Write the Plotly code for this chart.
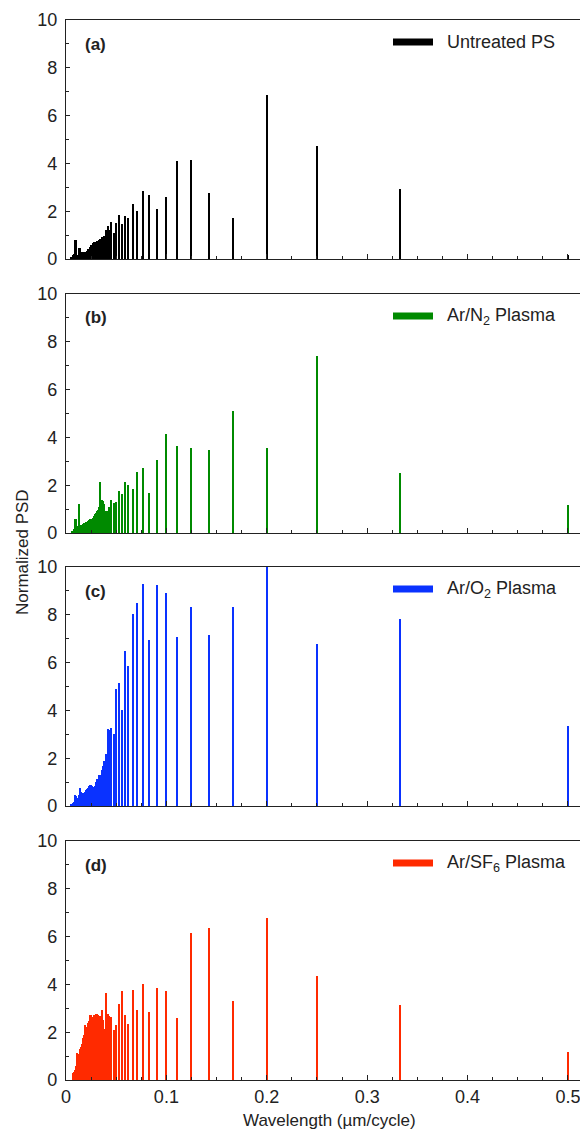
import plotly.graph_objects as go

# Wavelengths (um/cycle): harmonic peaks, then the densely packed short-wavelength region
harmonic_wl = [0.5, 0.3333, 0.25, 0.2, 0.1667, 0.1429, 0.125, 0.1111, 0.1, 0.0909,
               0.0833, 0.0769, 0.0714, 0.0667, 0.0625, 0.0588, 0.0556, 0.0526, 0.05,
               0.0476, 0.0455, 0.0435, 0.0417, 0.04, 0.0385, 0.037, 0.0357, 0.0345, 0.0333]
dense_wl = [0.032, 0.031, 0.030, 0.029, 0.028, 0.027, 0.026, 0.025, 0.024, 0.023,
            0.022, 0.021, 0.020, 0.019, 0.018, 0.017, 0.016, 0.015, 0.014, 0.013,
            0.012, 0.011, 0.010, 0.009, 0.008, 0.007, 0.006, 0.005]
wavelength = harmonic_wl + dense_wl

untreated_h = [0.15, 2.94, 4.74, 6.87, 1.72, 2.78, 4.13, 4.09, 2.61, 2.09,
               2.67, 2.84, 1.99, 2.29, 1.72, 1.82, 1.46, 1.84, 1.5,
               1.1, 1.55, 1.2, 1.4, 1.2, 0.95, 0.9, 0.9, 0.85, 0.8]
untreated_d = [0.75, 0.75, 0.72, 0.7, 0.7, 0.65, 0.6, 0.6, 0.5, 0.42,
               0.4, 0.35, 0.3, 0.28, 0.28, 0.28, 0.3, 0.3, 0.45, 0.45,
               0.15, 0.1, 0.78, 0.78, 0.2, 0.15, 0.1, 0.05]

n2_h = [1.16, 2.52, 7.42, 3.57, 5.10, 3.46, 3.57, 3.63, 4.16, 3.04,
        1.67, 2.72, 2.56, 1.85, 1.99, 2.13, 1.64, 1.75, 1.29,
        1.25, 1.39, 1.08, 0.94, 0.94, 1.2, 1.36, 1.4, 2.14, 1.08]
n2_d = [0.95, 0.9, 0.85, 0.8, 0.7, 0.62, 0.6, 0.6, 0.58, 0.56,
        0.5, 0.48, 0.45, 0.42, 0.4, 0.38, 0.35, 0.33, 0.32, 1.2,
        0.3, 0.25, 0.6, 0.6, 0.15, 0.1, 0.05, 0.0]

o2_h = [3.35, 7.82, 6.77, 10.0, 8.33, 7.17, 8.33, 7.06, 8.91, 9.23,
        6.96, 9.29, 8.49, 8.02, 5.86, 6.50, 4.0, 5.16, 4.91,
        3.03, 3.26, 3.2, 3.21, 2.16, 1.9, 1.69, 1.5, 1.3, 1.3]
o2_d = [1.1, 1.15, 1.0, 0.85, 0.75, 0.8, 0.85, 0.87, 0.87, 0.85,
        0.75, 0.7, 0.65, 0.6, 0.55, 0.55, 0.52, 0.6, 0.75, 0.45,
        0.35, 0.3, 0.4, 0.45, 0.15, 0.12, 0.1, 0.05]

sf6_h = [1.18, 3.14, 4.35, 6.77, 3.31, 6.35, 6.14, 2.6, 3.72, 3.87,
         2.83, 4.03, 2.94, 3.77, 2.35, 2.73, 3.73, 3.2, 2.3,
         2.09, 2.65, 2.66, 2.76, 3.66, 2.13, 2.5, 2.94, 2.66, 2.65]
sf6_d = [2.7, 2.75, 2.75, 2.7, 2.7, 2.65, 2.6, 2.7, 2.7, 2.45,
         2.4, 2.1, 2.2, 2.3, 1.9, 1.75, 1.5, 1.4, 1.3, 1.05,
         1.1, 1.15, 0.6, 0.4, 0.33, 0.3, 0.0, 0.0]

series = [
    ("Untreated PS", untreated_h + untreated_d, "#000000", "(a)"),
    ("Ar/N<sub>2</sub> Plasma", n2_h + n2_d, "#008a00", "(b)"),
    ("Ar/O<sub>2</sub> Plasma", o2_h + o2_d, "#0a32ff", "(c)"),
    ("Ar/SF<sub>6</sub> Plasma", sf6_h + sf6_d, "#ff2a00", "(d)"),
]

OFF = 8  # page body margin in the browser
W, H = 588 - OFF, 1132 - OFF
L = 66 - OFF
panel_px = [(20, 259), (294, 533), (567, 806), (841, 1080)]  # top, bottom in screen px
FONT = "Liberation Sans, Arial, sans-serif"
AX = "#222222"

fig = go.Figure()
layout = dict(
    width=W, height=H, margin=dict(l=L, r=0, t=0, b=0, autoexpand=False),
    paper_bgcolor="white", plot_bgcolor="white", showlegend=False,
    bargap=0, barmode="overlay", font=dict(family=FONT, size=18, color=AX),
)
annotations = []
shapes = []
widths = [0.0015 if w > 0.0326 else 0.0012 for w in wavelength]


def px_x(p):
    return (p - OFF - L) / (W - L)


def px_y(p):
    return 1 - (p - OFF) / H


for i, (name, vals, color, tag) in enumerate(series):
    n = i + 1
    xa = "x" if n == 1 else f"x{n}"
    ya = "y" if n == 1 else f"y{n}"
    fig.add_trace(go.Bar(x=wavelength, y=vals, width=widths, marker=dict(color=color, line=dict(width=0)),
                         xaxis=xa, yaxis=ya, name=name))
    top, bot = panel_px[i]
    dom = [px_y(bot), px_y(top)]
    layout["xaxis" if n == 1 else f"xaxis{n}"] = dict(
        domain=[0, 1], range=[0, 0.52], anchor=ya, automargin=False,
        showline=True, linecolor=AX, linewidth=1.3, mirror=True,
        ticks="inside", ticklen=5, tickwidth=1.2, tickcolor=AX,
        tick0=0, dtick=0.1, showgrid=False, zeroline=False,
        showticklabels=(n == 4), tickfont=dict(size=18, color=AX),
        minor=dict(dtick=0.025, ticks="inside", ticklen=2.5, tickwidth=1.2, tickcolor=AX, showgrid=False),
    )
    layout["yaxis" if n == 1 else f"yaxis{n}"] = dict(
        domain=dom, range=[0, 10], anchor=xa, automargin=False,
        showline=True, linecolor=AX, linewidth=1.3,
        ticks="inside", ticklen=4, tickwidth=1.2, tickcolor=AX,
        tick0=0, dtick=2, showgrid=False, zeroline=False,
        tickfont=dict(size=18, color=AX), ticklabelstandoff=4,
        minor=dict(dtick=1, ticks="inside", ticklen=3, tickwidth=1.2, tickcolor=AX, showgrid=False),
    )
    annotations.append(dict(text=f"<b>{tag}</b>", xref="paper", yref="paper",
                            x=px_x(83), y=px_y(top + 24), xanchor="left", yanchor="middle",
                            showarrow=False, font=dict(size=17, color=AX, family=FONT)))
    shapes.append(dict(type="line", xref="paper", yref="paper",
                       x0=px_x(393), x1=px_x(433), y0=px_y(top + 22), y1=px_y(top + 22),
                       line=dict(color=color, width=7)))
    annotations.append(dict(text=name, xref="paper", yref="paper",
                            x=px_x(445), y=px_y(top + 22), xanchor="left", yanchor="middle",
                            showarrow=False, font=dict(size=18, color=AX, family=FONT)))

annotations.append(dict(text="Normalized PSD", xref="paper", yref="paper",
                        x=px_x(22), y=px_y(552), xanchor="center", yanchor="middle",
                        textangle=-90, showarrow=False, font=dict(size=17, color=AX, family=FONT)))
annotations.append(dict(text="Wavelength (µm/cycle)", xref="paper", yref="paper",
                        x=px_x(329), y=px_y(1120), xanchor="center", yanchor="middle",
                        showarrow=False, font=dict(size=17, color=AX, family=FONT)))
layout["annotations"] = annotations
layout["shapes"] = shapes
fig.update_layout(**layout)
fig.write_html("out.html")
